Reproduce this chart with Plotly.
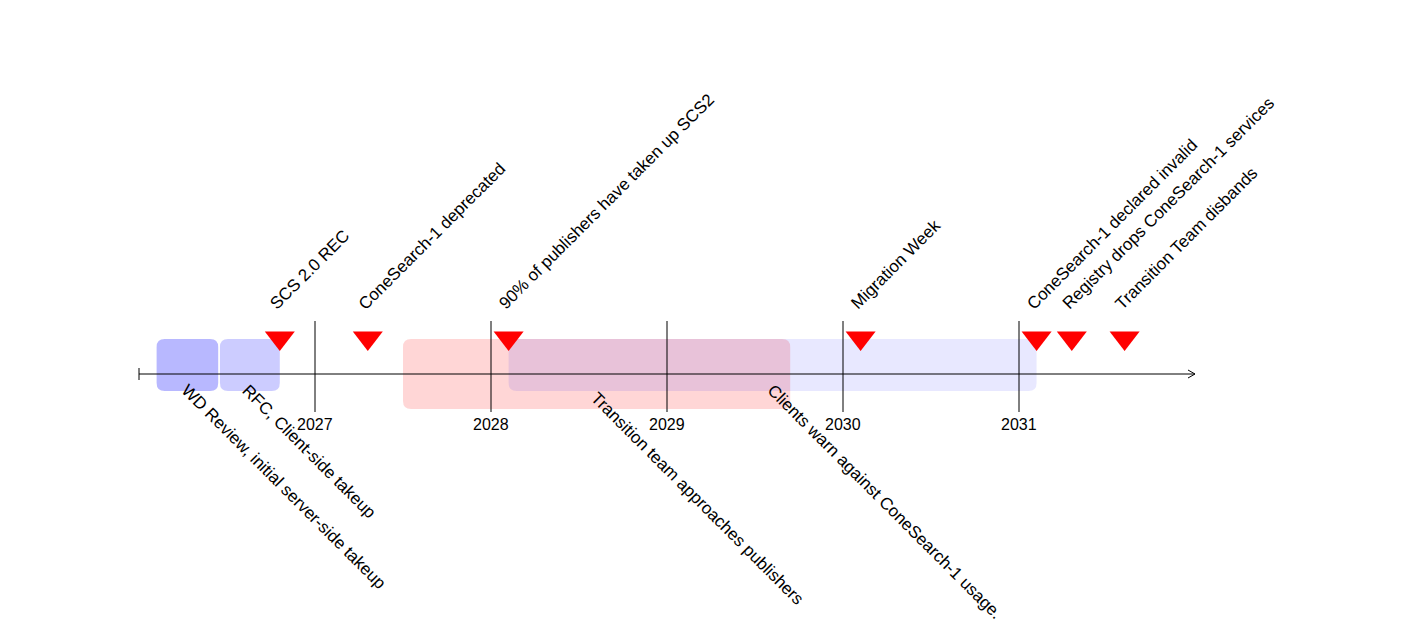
import plotly.graph_objects as go

# Data
years = [2027, 2028, 2029, 2030, 2031]
period_names = ["WD Review, initial server-side takeup", "RFC, Client-side takeup",
                "Transition team approaches publishers", "Clients warn against ConeSearch-1 usage."]
period_start = [2026.10, 2026.46, 2027.50, 2028.10]
period_end = [2026.45, 2026.80, 2029.70, 2031.10]
period_colors = ["rgba(0,0,255,0.28)", "rgba(0,0,255,0.20)", "rgba(255,0,0,0.16)", "rgba(0,0,255,0.09)"]
period_bottom = [375, 375, 393, 375]
period_label_x = [2026.20, 2026.55, 2028.53, 2029.53]
period_label_y = [362, 362, 370, 362]

milestone_names = ["SCS 2.0 REC", "ConeSearch-1 deprecated", "90% of publishers have taken up SCS2",
                   "Migration Week", "ConeSearch-1 declared invalid",
                   "Registry drops ConeSearch-1 services", "Transition Team disbands"]
milestone_dates = [2026.80, 2027.30, 2028.10, 2030.10, 2031.10, 2031.30, 2031.60]

W, H = 1417, 634
OFF = 8
PX = 176.0
X0 = 2026.0 - (139 - OFF) / PX
X1 = X0 + W / PX

fig = go.Figure()

def rounded(x0, x1, y0, y1, r=8):
    rx = r / PX
    return (f"M {x0+rx},{y0} L {x1-rx},{y0} Q {x1},{y0} {x1},{y0+r} L {x1},{y1-r} "
            f"Q {x1},{y1} {x1-rx},{y1} L {x0+rx},{y1} Q {x0},{y1} {x0},{y1-r} "
            f"L {x0},{y0+r} Q {x0},{y0} {x0+rx},{y0} Z")

shapes = []
for s, e, c, b in zip(period_start, period_end, period_colors, period_bottom):
    shapes.append(dict(type="path", path=rounded(s, e, 323, b), fillcolor=c,
                       line=dict(width=0), layer="below"))
for yv in years:
    shapes.append(dict(type="line", x0=yv, x1=yv, y0=305, y1=396, line=dict(color="black", width=1)))
shapes.append(dict(type="line", x0=2026.0, x1=2032.0, y0=358, y1=358, line=dict(color="black", width=1)))
shapes.append(dict(type="line", x0=2026.0, x1=2026.0, y0=352, y1=364, line=dict(color="black", width=1)))
shapes.append(dict(type="path", path=f"M {2032.0-7/PX},354 L 2032.0,358 L {2032.0-7/PX},362",
                   line=dict(color="black", width=1)))

fig.add_trace(go.Scatter(x=milestone_dates, y=[322] * len(milestone_dates), mode="markers",
                         marker=dict(symbol="triangle-down", size=26, color="red"),
                         hoverinfo="skip", showlegend=False))

font = dict(family="Liberation Sans", size=17, color="black")
ann = []
for n, d in zip(milestone_names, milestone_dates):
    ann.append(dict(x=d - 16 / PX, y=300, text=n, textangle=-45, showarrow=False,
                    xanchor="left", yanchor="bottom", font=font))
for n, x, y in zip(period_names, period_label_x, period_label_y):
    ann.append(dict(x=x, y=y, text=n, textangle=45, showarrow=False,
                    xanchor="left", yanchor="top", font=font))
for yv in years:
    ann.append(dict(x=yv, y=408, text=str(yv), showarrow=False, xanchor="center",
                    yanchor="middle", font=dict(family="Liberation Sans", size=16, color="black")))

fig.update_layout(width=W, height=H, margin=dict(l=0, r=0, t=0, b=0),
                  plot_bgcolor="white", paper_bgcolor="white",
                  xaxis=dict(range=[X0, X1], visible=False),
                  yaxis=dict(range=[H - OFF, -OFF], visible=False),
                  shapes=shapes, annotations=ann)
fig.write_html("out.html")
